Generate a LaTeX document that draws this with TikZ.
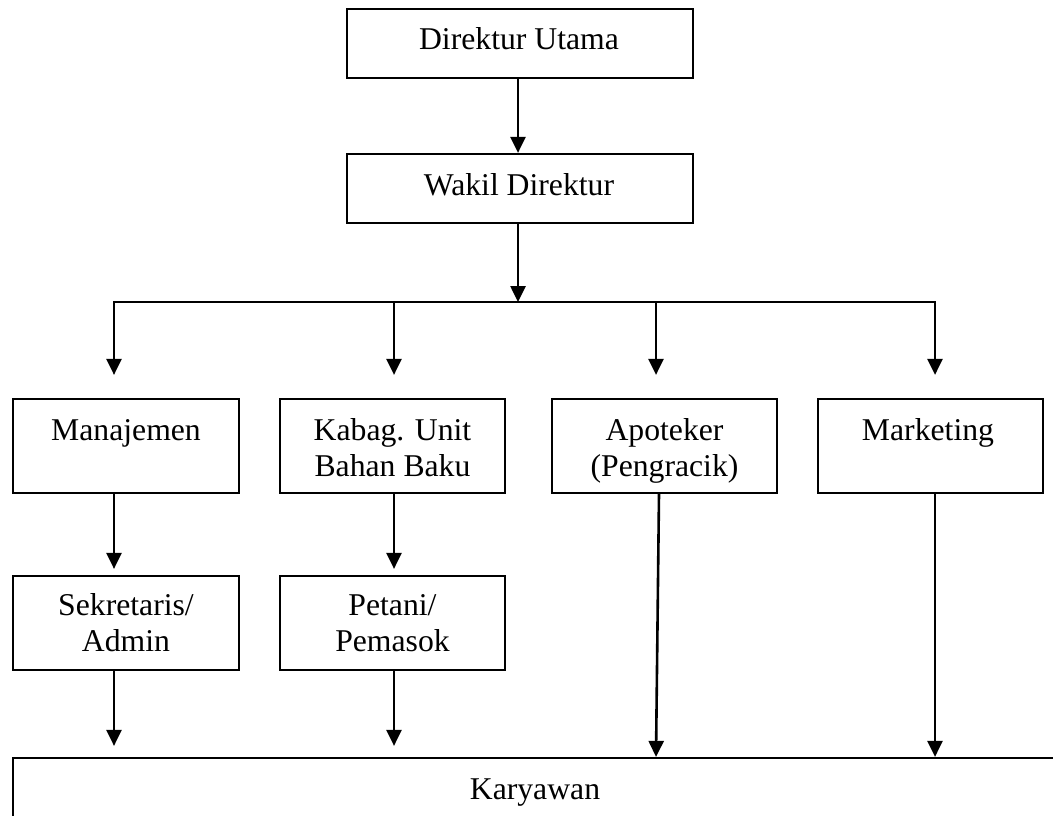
\documentclass[tikz,border=0pt]{standalone}
\usepackage{fontspec}
\setmainfont{Liberation Serif}
\usetikzlibrary{arrows.meta,calc}
\begin{document}
\begin{tikzpicture}[x=1pt,y=-1pt,
  box/.style={draw, line width=2.2pt, inner sep=0pt},
  lbl/.style={font=\fontsize{31.7}{36}\selectfont, align=center, anchor=base, inner sep=0pt},
  arr/.style={line width=2.6pt, -{Triangle[width=15pt,length=16pt]}},
  busline/.style={line width=2.6pt, line cap=rect}]
\fill[white] (0,0) rectangle (1053,816);
\useasboundingbox (0,0) rectangle (1053,816);
\clip (0,0) rectangle (1053,816);

% boxes
\node[box, minimum width=346pt, minimum height=69pt] (dir) at (520,43.5) {};
\node[box, minimum width=346pt, minimum height=69pt] (wak) at (520,188.5) {};
\node[box, minimum width=226pt, minimum height=94pt] (man) at (126,446) {};
\node[box, minimum width=225pt, minimum height=94pt] (kab) at (392.5,446) {};
\node[box, minimum width=225pt, minimum height=94pt] (apo) at (664.5,446) {};
\node[box, minimum width=225pt, minimum height=94pt] (mkt) at (930.5,446) {};
\node[box, minimum width=226pt, minimum height=94pt] (sek) at (126,623) {};
\node[box, minimum width=225pt, minimum height=94pt] (pet) at (392.5,623) {};
\node[box, minimum width=1045pt, minimum height=92pt] (kar) at (535.5,804) {};

% texts (anchor base = baseline of the last line)
\node[lbl] (dirT) at (519,50) {Direktur Utama};
\node[lbl] (wakT) at (519,195) {Wakil Direktur};
\node[lbl] (manT) at (126,440) {Manajemen};
\node[lbl] (kabT) at (392.5,476) {Kabag. Unit\\Bahan Baku};
\node[lbl] (apoT) at (664.5,476) {Apoteker\\(Pengracik)};
\node[lbl] (mktT) at (928,440) {Marketing};
\node[lbl] (sekT) at (126,651) {Sekretaris/\\Admin};
\node[lbl] (petT) at (392.5,651) {Petani/\\Pemasok};
\node[lbl] (karT) at (535,799) {Karyawan};

% bus
\coordinate (b1) at (114,302);
\coordinate (b2) at (394,302);
\coordinate (b3) at (656,302);
\coordinate (b4) at (935,302);

\draw[arr] (dir.south -| 518,0) -- (wak.north -| 518,0);
\draw[arr] (wak.south -| 518,0) -- (b1 -| 518,0);
\draw[busline] (b1) -- (b4);

\draw[arr, shorten >=23pt] (b1) -- (man.north -| b1);
\draw[arr, shorten >=23pt] (b2) -- (kab.north -| b2);
\draw[arr, shorten >=23pt] (b3) -- (apo.north -| b3);
\draw[arr, shorten >=23pt] (b4) -- (mkt.north -| b4);

\draw[arr, shorten >=6pt] (man.south -| b1) -- (sek.north -| b1);
\draw[arr, shorten >=6pt] (kab.south -| b2) -- (pet.north -| b2);
\draw[arr, shorten >=11pt] (sek.south -| b1) -- (kar.north -| b1);
\draw[arr, shorten >=11pt] (pet.south -| b2) -- (kar.north -| b2);
\draw[arr] ($(apo.south -| b3)+(3,0)$) -- (kar.north -| b3);
\draw[arr] (mkt.south -| b4) -- (kar.north -| b4);
\end{tikzpicture}
\end{document}
